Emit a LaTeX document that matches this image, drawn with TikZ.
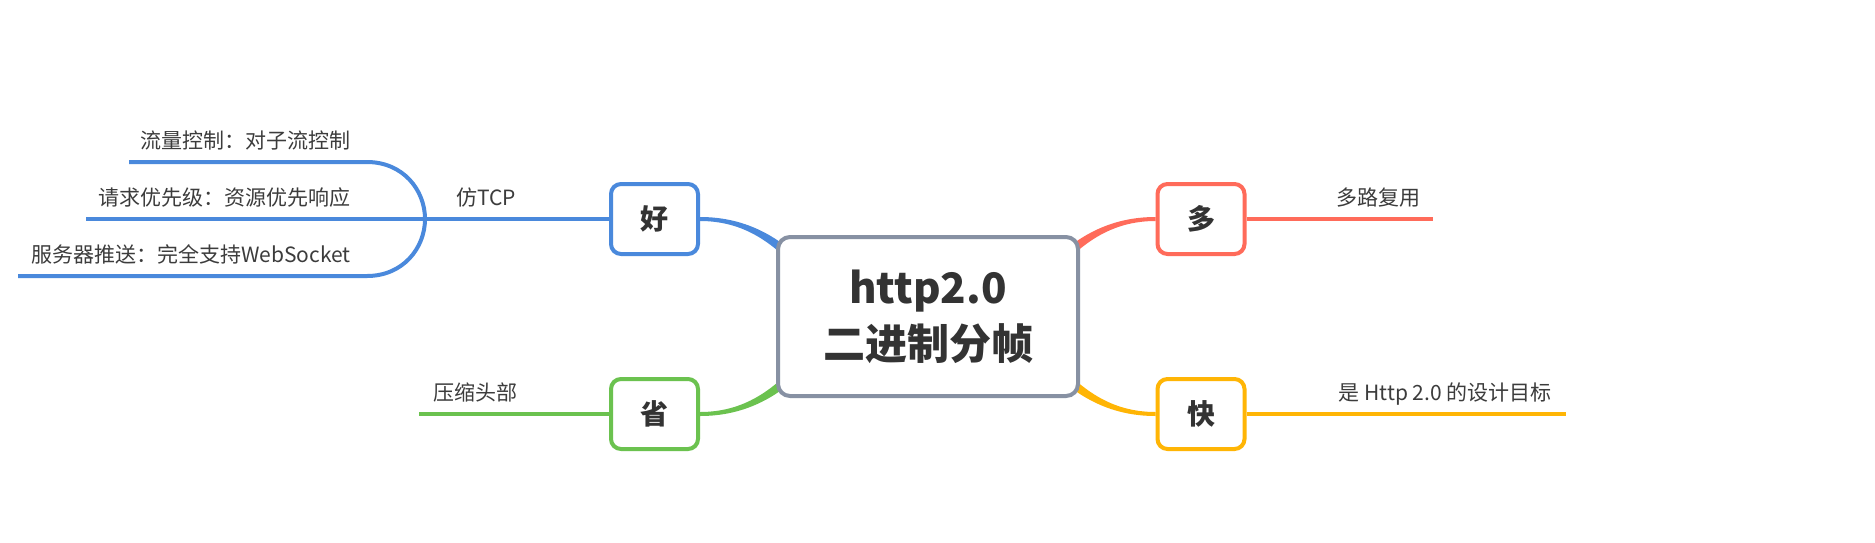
\documentclass[tikz,border=0pt]{standalone}
\usepackage{fontspec}
\setmainfont{Noto Sans CJK SC}
\usetikzlibrary{calc,backgrounds}
\definecolor{cblue}{RGB}{74,137,220}
\definecolor{cred}{RGB}{255,107,90}
\definecolor{cgreen}{RGB}{107,194,79}
\definecolor{cyellow}{RGB}{255,181,5}
\definecolor{cgray}{RGB}{135,145,163}
\definecolor{tdark}{RGB}{51,51,51}
\definecolor{tlabel}{RGB}{60,60,60}
\begin{document}
\begin{tikzpicture}[x=1pt,y=-1pt,
  mmcenter/.style={draw=cgray, line width=4pt, rounded corners=12pt, fill=white,
    minimum width=300pt, minimum height=159pt, inner sep=0pt, align=center,
    font=\fontsize{42}{56}\selectfont\bfseries, text=tdark},
  mmtopic/.style={line width=4pt, rounded corners=10pt, fill=white,
    minimum width=87pt, minimum height=70pt, inner sep=0pt,
    font=\fontsize{28}{30}\selectfont\bfseries, text=tdark},
  mmlabel/.style={inner sep=0pt, font=\fontsize{21}{25}\selectfont, text=tlabel,
    text height=18.5pt, text depth=2.5pt},
  mmline/.style={line width=4pt}]
\useasboundingbox (0,0) rectangle (1875,542);

% central and main topics
\node[mmcenter] (c) at (928,316.5) {http2.0\\二进制分帧};
\node[mmtopic,draw=cblue] (good) at (654.5,219) {好};
\node[mmtopic,draw=cgreen] (save) at (654.5,414) {省};
\node[mmtopic,draw=cred] (many) at (1201,219) {多};
\node[mmtopic,draw=cyellow] (fast) at (1201,414) {快};

% branch coordinates
\coordinate (bp) at (425,219);
\coordinate (t1) at (367,162);
\coordinate (t0) at (129,162);
\coordinate (m0) at (86,219);
\coordinate (b1) at (367,276);
\coordinate (b0) at (18,276);
\coordinate (sv0) at (419,414);
\coordinate (mn0) at (1433,219);
\coordinate (fs0) at (1566,414);

\begin{scope}[on background layer]
  \fill[white] (0,0) rectangle (1875,542);
  % tapered connectors from the central topic
  \fill[cblue] ($(good.east)+(0,-2)$) .. controls +(45,0) and +(-26,-25) .. ($(good.east)+(103,42)$)
     -- ($(good.east)+(97,50)$) .. controls +(-24,-25) and +(45,0) .. ($(good.east)+(0,2)$) -- cycle;
  \fill[cred] ($(many.west)+(0,-2)$) .. controls +(-45,0) and +(26,-25) .. ($(many.west)+(-103,42)$)
     -- ($(many.west)+(-97,50)$) .. controls +(24,-25) and +(-45,0) .. ($(many.west)+(0,2)$) -- cycle;
  \fill[cgreen] ($(save.east)+(0,2)$) .. controls +(45,0) and +(-26,25) .. ($(save.east)+(103,-42)$)
     -- ($(save.east)+(97,-50)$) .. controls +(-24,25) and +(45,0) .. ($(save.east)+(0,-2)$) -- cycle;
  \fill[cyellow] ($(fast.west)+(0,2)$) .. controls +(-45,0) and +(26,25) .. ($(fast.west)+(-103,-42)$)
     -- ($(fast.west)+(-97,-50)$) .. controls +(24,25) and +(-45,0) .. ($(fast.west)+(0,-2)$) -- cycle;
\end{scope}

% sub-branches
\draw[mmline,cblue] (t0) -- (t1) .. controls (403,162) and (425,190) .. (bp)
   .. controls (425,248) and (403,276) .. (b1) -- (b0);
\draw[mmline,cblue] (m0) -- (bp) -- (good.west);
\draw[mmline,cgreen] (save.west) -- (sv0);
\draw[mmline,cred] (many.east) -- (mn0);
\draw[mmline,cyellow] (fast.east) -- (fs0);

% labels
\node[mmlabel,anchor=east] (l1) at (351,140) {流量控制：对子流控制};
\node[mmlabel,anchor=east] (l2) at (351,197) {请求优先级：资源优先响应};
\node[mmlabel,anchor=east] (l3) at (351,254) {服务器推送：完全支持WebSocket};
\node[mmlabel] (l4) at (486,197) {仿TCP};
\node[mmlabel] (l5) at (475,392) {压缩头部};
\node[mmlabel] (l6) at (1378,197) {多路复用};
\node[mmlabel,anchor=east] (l7) at (1552,392) {是 Http 2.0 的设计目标};
\end{tikzpicture}
\end{document}
